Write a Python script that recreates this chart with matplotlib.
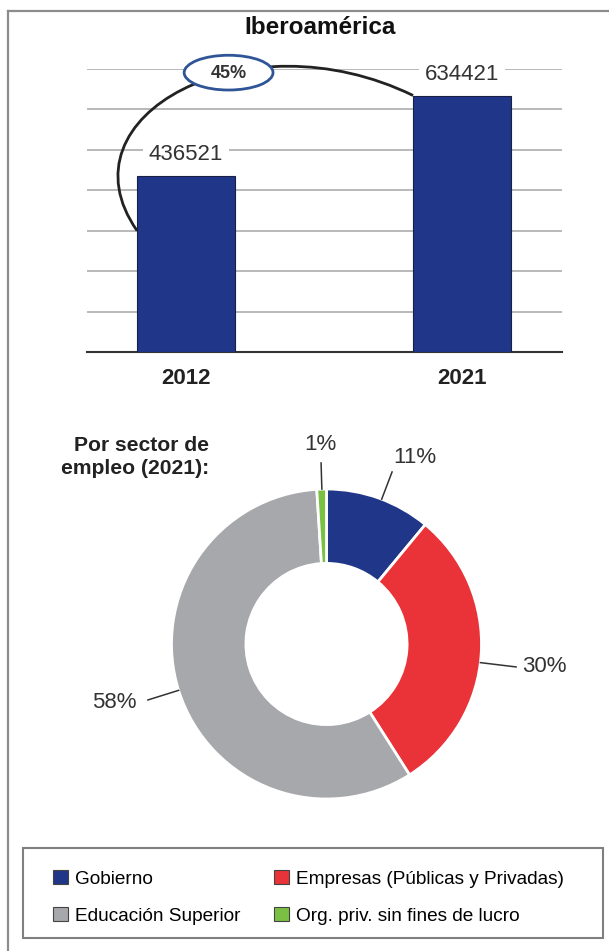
import matplotlib.pyplot as plt
import numpy as np
from matplotlib.lines import Line2D
from matplotlib.patches import Ellipse, PathPatch, Patch, Rectangle
from matplotlib.path import Path

plt.rcParams['font.family'] = ['Liberation Sans', 'DejaVu Sans']

# investigadores, Iberoamérica
years = ['2012', '2021']
researchers = [436521, 634421]
growth = '45%'

# por sector de empleo (2021)
sectors = ['Gobierno', 'Empresas (Públicas y Privadas)',
           'Educación Superior', 'Org. priv. sin fines de lucro']
shares = [11, 30, 58, 1]
colors = ['#1f3689', '#e93338', '#a7a8ab', '#7ac143']

W, H = 609, 951
fig = plt.figure(figsize=(W / 100, H / 100), dpi=100)


def box(x0, y0, x1, y1):
    # pixel box measured from the top-left corner -> figure fraction rect
    return [x0 / W, 1 - y1 / H, (x1 - x0) / W, (y1 - y0) / H]


# page frame, only top and left edges show
fig.add_artist(Line2D([8 / W, 1], [1 - 11 / H] * 2, color='#8c8c8c', lw=1.6))
fig.add_artist(Line2D([8 / W] * 2, [0, 1 - 11 / H], color='#8c8c8c', lw=1.6))

fig.text(320 / W, 1 - 27 / H, 'Iberoamérica', ha='center', va='center',
         fontsize=17.5, fontweight='bold', color='#111111')

# ---- bars ----
ax = fig.add_axes(box(87, 69, 562, 352))
x = np.arange(len(years))
bw = 0.355
ax.bar(x, researchers, width=bw, color=colors[0], edgecolor='#1a1f45',
       linewidth=0.8, zorder=3)
ax.set_xlim(-0.359, 1.362)
ax.set_ylim(0, 700000)
ax.set_yticks(np.arange(100000, 700001, 100000))
ax.yaxis.grid(True, color='#a6a6a6', lw=1.1)
ax.set_axisbelow(True)
for s in ['top', 'right', 'left']:
    ax.spines[s].set_visible(False)
ax.spines['bottom'].set_color('#333333')
ax.spines['bottom'].set_linewidth(1.5)
ax.tick_params(left=False, labelleft=False, bottom=False, pad=8)
ax.set_xticks(x, years, fontsize=16, fontweight='bold', color='#222222')

for xi, v in zip(x, researchers):
    ax.text(xi, v + 52000, str(v), ha='center', va='center', fontsize=16,
            color='#333333', zorder=4,
            bbox=dict(facecolor='white', edgecolor='none', pad=4))

# growth arc from the first bar to the second
p0 = (x[0] - bw / 2, 300000)
p3 = (x[1] - bw / 2, researchers[1])
arc = Path([p0, (-0.47, 585000), (0.22, 835000), p3],
           [Path.MOVETO, Path.CURVE4, Path.CURVE4, Path.CURVE4])
ax.add_patch(PathPatch(arc, fill=False, edgecolor='#222222', lw=2,
                       clip_on=False, zorder=4))
ax.add_patch(Ellipse((0.154, 691000), 0.322, 86000, facecolor='white',
                     edgecolor='#2f5597', lw=2, clip_on=False, zorder=5))
ax.text(0.154, 690000, growth, ha='center', va='center', fontsize=13,
        fontweight='bold', color='#333333', zorder=6)

# ---- donut ----
cx, cy, r = 326.5, 644, 155
pax = fig.add_axes(box(cx - 1.065 * r, cy - 1.065 * r, cx + 1.065 * r, cy + 1.065 * r))
pax.pie(shares, colors=colors, startangle=90, counterclock=False, radius=1,
        wedgeprops=dict(width=0.48, edgecolor='white', linewidth=2))
pax.set_xlim(-1.065, 1.065)
pax.set_ylim(-1.065, 1.065)
pax.set_aspect('equal')

# label text position, leader end, alignment
label_pos = [((0.571, 1.206), (0.423, 1.11), 'center'),
             ((1.262, -0.148), (1.223, -0.148), 'left'),
             ((-1.225, -0.375), (-1.152, -0.361), 'right'),
             ((-0.04, 1.29), (-0.035, 1.168), 'center')]
for share, (tpos, lend, ha) in zip(shares, label_pos):
    d = np.hypot(*lend)
    start = (lend[0] / d, lend[1] / d)
    pax.plot([start[0], lend[0]], [start[1], lend[1]], color='#333333',
             lw=1.1, clip_on=False)
    pax.text(tpos[0], tpos[1], f'{share}%', ha=ha, va='center', fontsize=16,
             color='#333333')

fig.text(209 / W, 1 - 457 / H, 'Por sector de\nempleo (2021):', ha='right',
         va='center', fontsize=15.2, fontweight='bold', color='#222222',
         linespacing=1.3)

# ---- legend ----
fig.add_artist(Rectangle((23 / W, 1 - 938 / H), 580 / W, 90 / H,
                         transform=fig.transFigure, fill=False,
                         edgecolor='#7f7f7f', lw=1.5))
order = [0, 2, 1, 3]
handles = [Patch(facecolor=colors[i], edgecolor='#444444', lw=0.8, label=sectors[i])
           for i in order]
fig.legend(handles=handles, loc='upper left', bbox_to_anchor=(53 / W, 1 - 870 / H),
           ncol=2, frameon=False, fontsize=13.7, borderpad=0, borderaxespad=0,
           handlelength=0.79, handleheight=0.79, handletextpad=0.36,
           labelspacing=1.0, columnspacing=1.75)

fig.savefig('out.png', dpi=100)
